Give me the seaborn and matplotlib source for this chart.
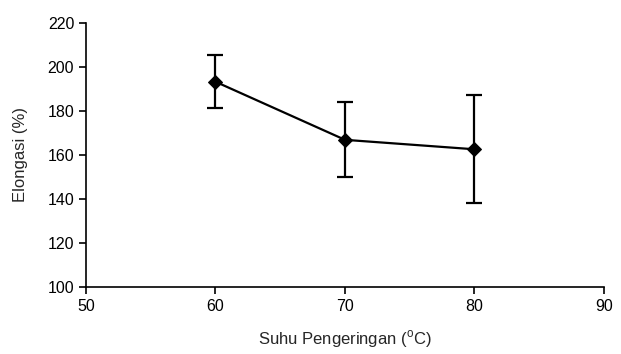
import pandas as pd
import matplotlib
matplotlib.use('Agg')
import matplotlib.pyplot as plt
import seaborn as sns

# data
suhu = [60, 70, 80]
elongasi = [193.3, 166.9, 162.6]
sd = [12.0, 17.0, 24.5]

df = pd.DataFrame({'suhu': suhu, 'elongasi': elongasi, 'sd': sd})

sns.set_style('ticks')
plt.rcParams['font.family'] = ['Liberation Sans', 'DejaVu Sans']
plt.rcParams['font.size'] = 11.5

fig = plt.figure(figsize=(6.21, 3.54), dpi=100)
ax = fig.add_axes([0.1385, 0.1893, 0.834, 0.7457])

ax.errorbar(df['suhu'], df['elongasi'], yerr=df['sd'], fmt='none',
            ecolor='black', elinewidth=1.6, capsize=5.5, capthick=1.6, zorder=2)
sns.lineplot(data=df, x='suhu', y='elongasi', color='black', marker='D',
             markersize=7, markeredgecolor='black', linewidth=1.6, ax=ax, zorder=3)

ax.set_xlim(50, 90)
ax.set_ylim(100, 220)
ax.set_xticks([50, 60, 70, 80, 90])
ax.set_yticks(range(100, 221, 20))
ax.set_xlabel('Suhu Pengeringan ($^{\\mathregular{o}}$C)', fontsize=12, labelpad=10)
ax.set_ylabel('Elongasi (%)', fontsize=12, labelpad=14)
for s in ['left', 'bottom']:
    ax.spines[s].set_linewidth(1.2)
    ax.spines[s].set_color('black')
ax.tick_params(axis='both', width=1.2, length=5, color='black', labelcolor='black')
ax.tick_params(axis='x', pad=4)
sns.despine(ax=ax)

fig.savefig('out.png', dpi=100)
